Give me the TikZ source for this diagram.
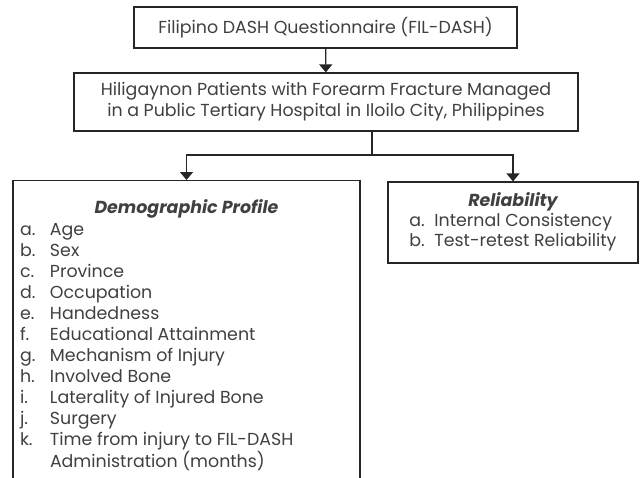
\documentclass[tikz,border=0pt]{standalone}
\usepackage{fontspec}
\setmainfont{Poppins}
\usetikzlibrary{arrows.meta,positioning}

\begin{document}
\begin{tikzpicture}[x=0.5pt, y=-0.5pt,
    box/.style={rectangle, draw=black!85, line width=0.6pt, align=center, inner sep=0pt, text=black!75, font=\fontsize{8.7}{10.5}\selectfont},
    link/.style={line width=0.6pt, draw=black!85},
    arr/.style={link, -{Triangle[width=6.5pt,length=4pt]}}
]
\path[use as bounding box, clip] (0,0) rectangle (640,477);

\node[box, minimum width=191.5pt, minimum height=20.5pt] (quest) at (325.5,27.5) {Filipino DASH Questionnaire (FIL-DASH)};
\node[box, minimum width=252pt, minimum height=29pt] (patients) at (326,102) {Hiligaynon Patients with Forearm Fracture Managed\\in a Public Tertiary Hospital in Iloilo City, Philippines};
\node[box, anchor=north, inner ysep=9.5pt] (demo) at (186.5,180) {%
  \begin{minipage}[t][160pt][t]{173.5pt}
    \centering{\bfseries\itshape Demographic Profile}\par
    \raggedright\hspace*{3.5pt}%
    \begin{tabular}{@{}p{15pt}@{}l@{}}
      a. & Age\\
      b. & Sex\\
      c. & Province\\
      d. & Occupation\\
      e. & Handedness\\
      f. & Educational Attainment\\
      g. & Mechanism of Injury\\
      h. & Involved Bone\\
      i. & Laterality of Injured Bone\\
      j. & Surgery\\
      k. & Time from injury to FIL-DASH\\
         & Administration (months)
    \end{tabular}
  \end{minipage}};
\node[box, minimum width=125pt, minimum height=40.5pt, font=\fontsize{8.7}{9.8}\selectfont] (rel) at (513,222.5) {%
  {\bfseries\itshape Reliability}\\
  \begin{tabular}{@{}p{12.5pt}@{}l@{}}
    a. & Internal Consistency\\
    b. & Test-retest Reliability
  \end{tabular}};

\coordinate (split) at (372,155);

\draw[arr] (quest) -- (patients);
\draw[link] (patients.south -| split) -- (split);
\draw[arr] (split) -| (demo.north);
\draw[arr] (split) -| (rel.north);
\end{tikzpicture}
\end{document}
